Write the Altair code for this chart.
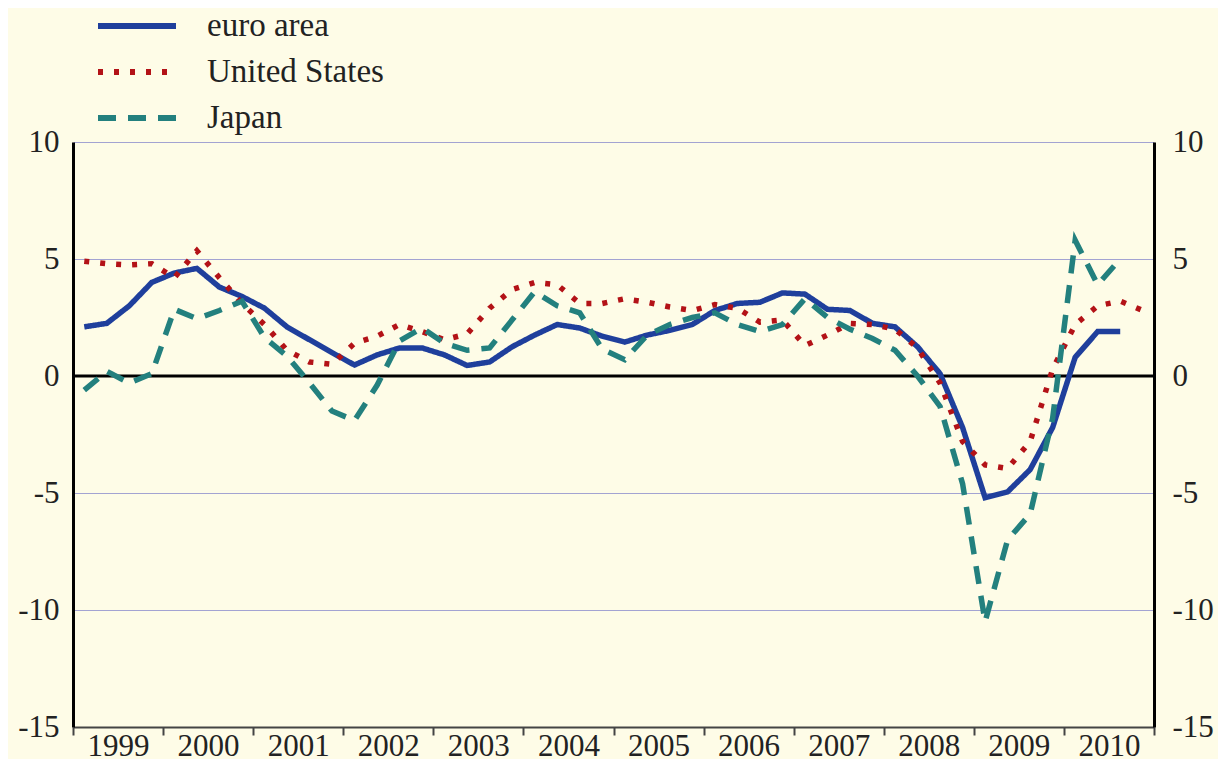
import altair as alt
import pandas as pd

series_names = ["euro area", "United States", "Japan"]
series_colors = ["#1f3f9c", "#b31217", "#23807e"]

# quarterly year-on-year growth, 1999Q1 onwards
euro_area = [2.1, 2.25, 3.0, 4.0, 4.4, 4.6, 3.8, 3.4, 2.9, 2.1, 1.55, 1.0,
             0.47, 0.9, 1.2, 1.2, 0.9, 0.45, 0.6, 1.25, 1.75, 2.2, 2.05, 1.7,
             1.45, 1.75, 1.95, 2.2, 2.8, 3.1, 3.15, 3.55, 3.5, 2.85, 2.8, 2.25,
             2.1, 1.25, 0.1, -2.2, -5.2, -4.95, -4.0, -2.2, 0.8, 1.9, 1.9]
united_states = [4.9, 4.8, 4.75, 4.8, 4.2, 5.35, 4.2, 3.1, 2.2, 1.1, 0.6, 0.5,
                 1.4, 1.7, 2.2, 1.9, 1.55, 1.8, 2.9, 3.7, 4.0, 3.9, 3.1, 3.1,
                 3.3, 3.15, 2.95, 2.8, 3.05, 2.9, 2.3, 2.4, 1.3, 1.75, 2.25, 2.2,
                 2.0, 1.2, -0.3, -2.8, -3.8, -3.95, -2.8, 0.3, 2.2, 3.0, 3.2, 2.8]
japan = [-0.6, 0.2, -0.3, 0.1, 2.85, 2.45, 2.8, 3.2, 1.65, 0.85, -0.3, -1.5,
         -1.9, -0.4, 1.5, 2.05, 1.4, 1.1, 1.2, 2.4, 3.6, 3.0, 2.7, 1.15,
         0.7, 1.75, 2.2, 2.5, 2.7, 2.2, 1.9, 2.2, 3.3, 2.5, 2.0, 1.6,
         1.1, 0.0, -1.3, -4.6, -10.5, -7.0, -5.9, -1.8, 5.8, 3.9, 5.0]

year_ticks = list(range(1999, 2012))
y_ticks = [-15, -10, -5, 0, 5, 10]
start_year = 1999

rows = []
for name, vals in zip(series_names, [euro_area, united_states, japan]):
    for i, v in enumerate(vals):
        rows.append({"series": name, "t": start_year + (i + 0.5) / 4, "value": v})
df = pd.DataFrame(rows)

FONT = "Liberation Serif, Times New Roman, DejaVu Serif, serif"
BG = "#fefce7"
TXT = "#222222"
TICK_FS = 31

x_enc = alt.X(
    "t:Q",
    scale=alt.Scale(domain=[1999, 2011], nice=False, zero=False),
    axis=alt.Axis(
        values=year_ticks, title=None, grid=False, labelFlush=False,
        labelExpr="datum.value < 2011 ? '' + datum.value : ''",
        labelOffset=45, labelBaseline="alphabetic", labelPadding=20,
        tickSize=8, tickWidth=2,
        tickColor="#444444", domainColor="#444444", domainWidth=2,
        labelFont=FONT, labelFontSize=TICK_FS, labelColor=TXT,
    ),
)

legend = alt.Legend(
    title=None, orient="none", legendX=46, legendY=-134,
    symbolType="M-2.6,0L2.6,0", symbolSize=900, symbolStrokeWidth=6,
    labelFont=FONT, labelFontSize=33, labelColor=TXT, labelLimit=500,
    labelOffset=52, rowPadding=11,
)

lines = alt.Chart(df).mark_line(strokeWidth=5.5, strokeCap="butt").encode(
    x=x_enc,
    y=alt.Y(
        "value:Q",
        scale=alt.Scale(domain=[-15, 10], nice=False),
        axis=alt.Axis(
            values=y_ticks, title=None, ticks=False, labelPadding=14,
            labelExpr="'' + datum.value",
            grid=True, gridColor="#a3a3d2", gridWidth=1.2,
            domainColor="black", domainWidth=3,
            labelFont=FONT, labelFontSize=TICK_FS, labelColor=TXT,
        ),
    ),
    color=alt.Color("series:N", sort=series_names,
                    scale=alt.Scale(domain=series_names, range=series_colors),
                    legend=legend),
    strokeDash=alt.StrokeDash("series:N", sort=series_names,
                              scale=alt.Scale(domain=series_names,
                                              range=[[1, 0], [5, 11], [18, 12]]),
                              legend=legend),
)

zero = alt.Chart(pd.DataFrame({"y": [0]})).mark_rule(color="black", strokeWidth=3).encode(
    y=alt.Y(
        "y:Q",
        scale=alt.Scale(domain=[-15, 10], nice=False),
        axis=alt.Axis(
            orient="right", values=y_ticks, title=None, ticks=False,
            labelExpr="'' + datum.value",
            labelPadding=18, grid=False, domainColor="black", domainWidth=3,
            labelFont=FONT, labelFontSize=TICK_FS, labelColor=TXT,
        ),
    )
)

chart = (
    alt.layer(zero, lines)
    .resolve_scale(y="independent")
    .properties(
        width=1081, height=585,
        autosize=alt.AutoSizeParams(type="none"),
        padding={"left": 65, "top": 134, "right": 64, "bottom": 32},
        background=BG,
    )
    .configure_view(stroke=None, fill=BG)
)

chart.save("out.html", embed_options={"renderer": "svg", "actions": False})
